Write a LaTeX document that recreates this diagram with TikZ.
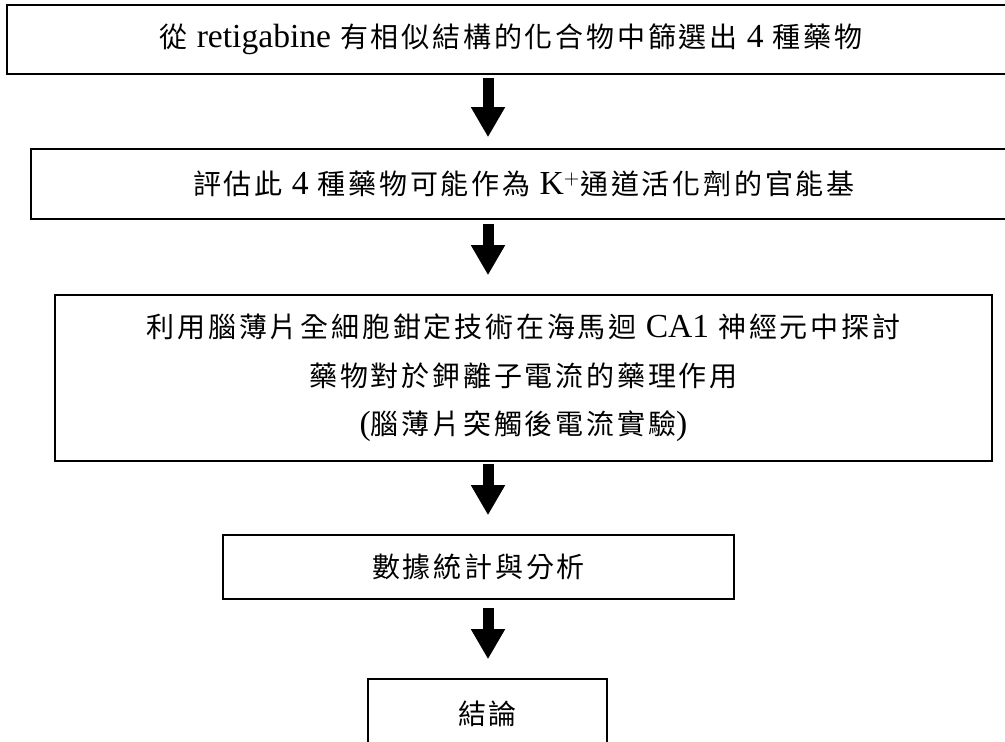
\documentclass[tikz,border=0pt]{standalone}
\usepackage{fontspec}
\setmainfont{Liberation Serif}[Scale=1.2]
\newfontfamily\cjk[LetterSpace=10]{Noto Sans CJK TC}
\newcommand{\tnr}[1]{{\rmfamily #1}}
\usetikzlibrary{arrows.meta}

\tikzset{
  stepbox/.style={draw, line width=0.8pt, inner sep=0pt, align=center,
    font=\fontsize{14pt}{24.25pt}\selectfont\cjk},
  flowarrow/.style={line width=5.5pt, -{Triangle[width=16pt,length=15pt]}}
}

\begin{document}
\begin{tikzpicture}[x=0.5pt, y=-0.5pt]
  \useasboundingbox (0,0) rectangle (1005,741);
  \clip (0,0) rectangle (1005,741);
  \coordinate (axis) at (488,0);
  % steps
  \node[stepbox, minimum width=504pt, minimum height=34.5pt] (screen) at (511,39.5)
    {從 \tnr{retigabine} 有相似結構的化合物中篩選出 \tnr{4} 種藥物};
  \node[stepbox, minimum width=493pt, minimum height=35pt] (assess) at (524,184)
    {評估此 \tnr{4} 種藥物可能作為 \tnr{K$^{+}$}通道活化劑的官能基};
  \node[stepbox, minimum width=468.5pt, minimum height=83pt] (patch) at (523.5,378)
    {利用腦薄片全細胞鉗定技術在海馬迴 \tnr{CA1} 神經元中探討\\
     藥物對於鉀離子電流的藥理作用\\
     \tnr{(}腦薄片突觸後電流實驗\tnr{)}};
  \node[stepbox, minimum width=255.5pt, minimum height=32pt] (stats) at (478.5,567)
    {數據統計與分析};
  \node[stepbox, minimum width=119.5pt, minimum height=35pt] (concl) at (487.5,714)
    {結論};
  % arrows
  \draw[flowarrow, shorten <=1.5pt, shorten >=5.5pt] (axis |- screen.south) -- (axis |- assess.north);
  \draw[flowarrow, shorten <=2pt, shorten >=9.5pt] (axis |- assess.south) -- (axis |- patch.north);
  \draw[flowarrow, shorten <=1pt, shorten >=9.5pt] (axis |- patch.south) -- (axis |- stats.north);
  \draw[flowarrow, shorten <=4pt, shorten >=9.5pt] (axis |- stats.south) -- (axis |- concl.north);
\end{tikzpicture}
\end{document}
